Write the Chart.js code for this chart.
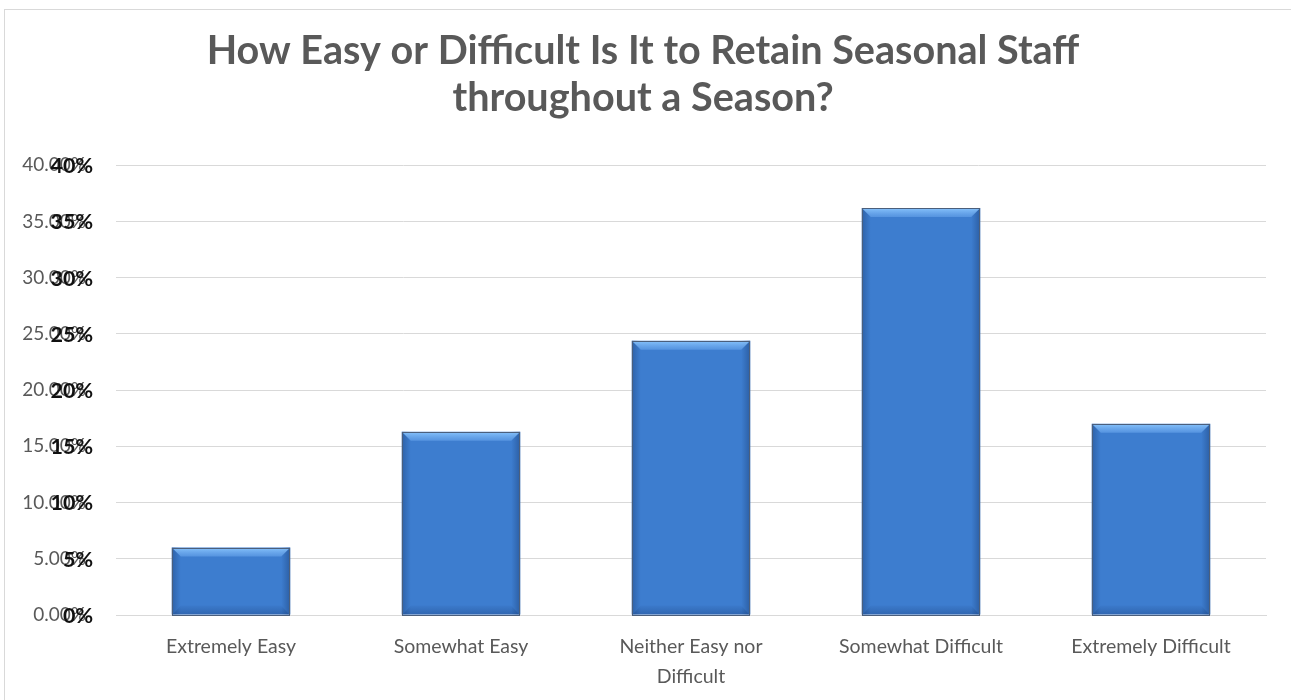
<!DOCTYPE html>
<html>
<head>
<meta charset="utf-8">
<script src="https://cdn.jsdelivr.net/npm/chart.js@4.4.1/dist/chart.umd.min.js"></script>
<style>
html,body{margin:0;padding:0;background:#fff;overflow:hidden;}
#wrap{position:absolute;left:0;top:0;width:1291px;height:700px;}
#frame{position:absolute;left:4px;top:9px;width:1400px;height:800px;border-left:1px solid #d9d9d9;border-top:1px solid #d9d9d9;box-sizing:border-box;pointer-events:none;}
</style>
</head>
<body>
<div id="wrap"><canvas id="c" width="1291" height="700"></canvas><div id="frame"></div></div>
<script>
const categories = ['Extremely Easy', 'Somewhat Easy', ['Neither Easy nor', 'Difficult'], 'Somewhat Difficult', 'Extremely Difficult'];
const values = [6.0, 16.3, 24.4, 36.2, 17.0];
const yMin = 0, yMax = 40, yStep = 5;
const titleLines = ['How Easy or Difficult Is It to Retain Seasonal Staff', 'throughout a Season?'];

const FONT = 'Lato, "Open Sans", sans-serif';

const bevelPlugin = {
  id: 'bevel',
  afterDatasetDraw(chart, args) {
    const ctx = chart.ctx;
    const meta = args.meta;
    meta.data.forEach(bar => {
      const x0 = bar.x - bar.width / 2, x1 = bar.x + bar.width / 2;
      const y0 = bar.y, y1 = bar.base;
      const b = 9;
      ctx.save();
      let g = ctx.createLinearGradient(x0, 0, x0 + b, 0);
      g.addColorStop(0, 'rgba(30,70,130,0.5)');
      g.addColorStop(1, 'rgba(30,70,130,0)');
      ctx.fillStyle = g;
      ctx.fillRect(x0, y0, b, y1 - y0);
      g = ctx.createLinearGradient(x1 - b, 0, x1, 0);
      g.addColorStop(0, 'rgba(30,70,130,0)');
      g.addColorStop(1, 'rgba(30,70,130,0.55)');
      ctx.fillStyle = g;
      ctx.fillRect(x1 - b, y0, b, y1 - y0);
      ctx.beginPath();
      ctx.moveTo(x0 + 1, y0 + 1);
      ctx.lineTo(x1 - 1, y0 + 1);
      ctx.lineTo(x1 - b, y0 + b);
      ctx.lineTo(x0 + b, y0 + b);
      ctx.closePath();
      g = ctx.createLinearGradient(0, y0, 0, y0 + b);
      g.addColorStop(0, 'rgba(140,200,255,0.95)');
      g.addColorStop(1, 'rgba(110,170,240,0.5)');
      ctx.fillStyle = g;
      ctx.fill();
      ctx.beginPath();
      ctx.moveTo(x0 + 1, y1);
      ctx.lineTo(x1 - 1, y1);
      ctx.lineTo(x1 - b, y1 - b);
      ctx.lineTo(x0 + b, y1 - b);
      ctx.closePath();
      g = ctx.createLinearGradient(0, y1 - b, 0, y1);
      g.addColorStop(0, 'rgba(25,60,120,0.05)');
      g.addColorStop(1, 'rgba(25,60,120,0.35)');
      ctx.fillStyle = g;
      ctx.fill();
      ctx.strokeStyle = '#4b5f7c';
      ctx.lineWidth = 1;
      ctx.strokeRect(Math.round(x0) + 0.5, Math.round(y0) + 0.5, Math.round(x1 - x0) - 1, Math.round(y1 - y0));
      ctx.restore();
    });
  }
};

// second (bold) set of tick labels overlapping the regular ones, as in the original
const boldTicksPlugin = {
  id: 'boldTicks',
  afterDraw(chart) {
    const s = chart.scales.y;
    const ctx = chart.ctx;
    ctx.save();
    ctx.font = 'bold 21.5px ' + FONT;
    ctx.fillStyle = '#111';
    ctx.textAlign = 'right';
    ctx.textBaseline = 'middle';
    s.ticks.forEach(t => {
      const y = s.getPixelForValue(t.value);
      ctx.fillText(t.value.toFixed(0) + '%', chart.chartArea.left - 23, y + 1);
    });
    ctx.restore();
  }
};

new Chart(document.getElementById('c'), {
  type: 'bar',
  data: {
    labels: categories,
    datasets: [{
      data: values,
      backgroundColor: '#3d7dcf',
      borderWidth: 0,
      barPercentage: 0.515,
      categoryPercentage: 1.0
    }]
  },
  options: {
    responsive: false,
    animation: false,
    devicePixelRatio: 1,
    layout: { padding: { left: 20, right: 25, top: 28, bottom: 0 } },
    plugins: {
      legend: { display: false },
      tooltip: { enabled: false },
      title: {
        display: true,
        text: titleLines,
        color: '#595959',
        font: { family: FONT, size: 39.6, weight: 'bold', lineHeight: 1.19 },
        padding: { top: 0, bottom: 43 }
      }
    },
    scales: {
      x: {
        afterFit(scale) { scale.height = 85; },
        grid: { display: false, drawTicks: false },
        border: { display: true, color: '#d9d9d9', width: 1 },
        ticks: {
          color: '#595959',
          font: { family: FONT, size: 19.5, lineHeight: 1.52 },
          padding: 17,
          maxRotation: 0,
          autoSkip: false
        }
      },
      y: {
        min: yMin,
        max: yMax,
        afterFit(scale) { scale.width = 96; },
        grid: { color: '#d9d9d9', lineWidth: 1, drawTicks: false },
        border: { display: false },
        ticks: {
          stepSize: yStep,
          color: '#595959',
          padding: 30,
          font: { family: FONT, size: 19 },
          callback: v => v.toFixed(2) + '%'
        }
      }
    }
  },
  plugins: [bevelPlugin, boldTicksPlugin]
});
</script>
</body>
</html>
